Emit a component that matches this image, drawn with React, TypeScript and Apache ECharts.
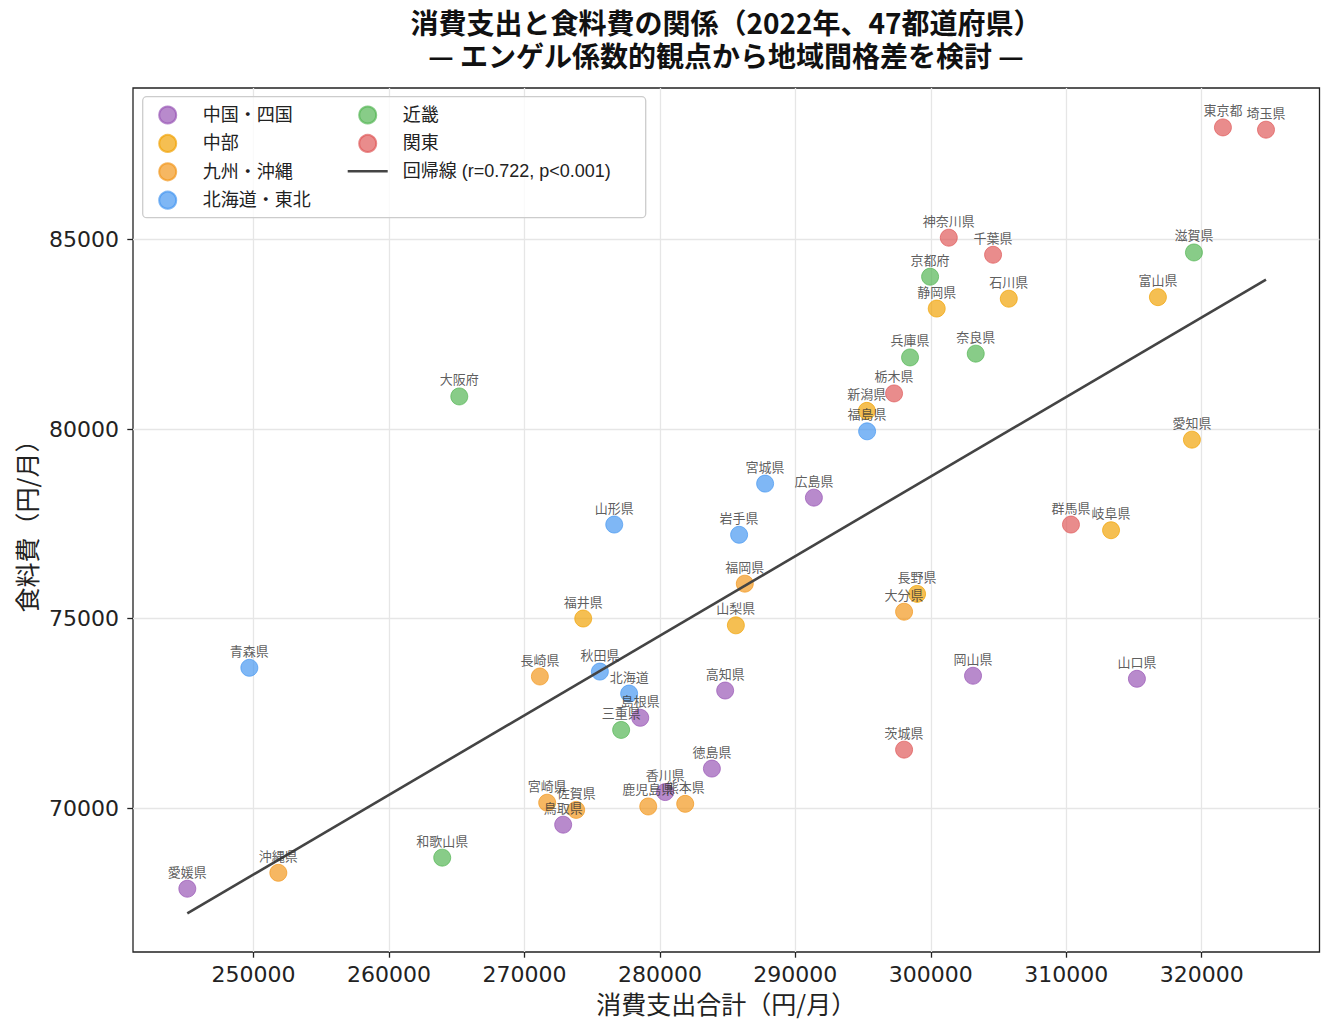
import React, { useEffect, useRef } from "react";
import * as echarts from "echarts";

// ---- Data ----
const regionNames = ["中国・四国", "中部", "九州・沖縄", "北海道・東北", "近畿", "関東"];
const regionColors = ["#9652B4", "#F0A100", "#F19517", "#4395F0", "#50B44F", "#DE5656"];

const chushikokuNames = ["鳥取県", "島根県", "岡山県", "広島県", "山口県", "徳島県", "香川県", "愛媛県", "高知県"];
const chushikokuSpend = [272860, 278550, 303120, 291370, 315220, 283840, 280390, 245110, 284820];
const chushikokuFood = [69560, 72380, 73490, 78190, 73410, 71040, 70420, 67870, 73100];

const chubuNames = ["石川県", "富山県", "静岡県", "新潟県", "愛知県", "岐阜県", "長野県", "福井県", "山梨県"];
const chubuSpend = [305760, 316770, 300440, 295280, 319280, 313310, 298990, 274340, 285610];
const chubuFood = [83440, 83480, 83180, 80480, 79720, 77330, 75650, 75000, 74820];

const kyushuNames = ["福岡県", "佐賀県", "長崎県", "熊本県", "大分県", "宮崎県", "鹿児島県", "沖縄県"];
const kyushuSpend = [286270, 273820, 271140, 281870, 298030, 271680, 279140, 251830];
const kyushuFood = [75920, 69950, 73470, 70110, 75180, 70140, 70040, 68290];

const tohokuNames = ["北海道", "青森県", "岩手県", "宮城県", "秋田県", "山形県", "福島県"];
const tohokuSpend = [277730, 249690, 285850, 287770, 275570, 276630, 295300];
const tohokuFood = [73020, 73700, 77210, 78560, 73600, 77480, 79940];

const kinkiNames = ["滋賀県", "京都府", "大阪府", "兵庫県", "奈良県", "和歌山県", "三重県"];
const kinkiSpend = [319430, 299950, 265190, 298470, 303320, 263930, 277140];
const kinkiFood = [84660, 84020, 80860, 81890, 81990, 68690, 72060];

const kantoNames = ["東京都", "埼玉県", "神奈川県", "千葉県", "栃木県", "群馬県", "茨城県"];
const kantoSpend = [321570, 324750, 301330, 304600, 297290, 310350, 298030];
const kantoFood = [87960, 87900, 85050, 84600, 80940, 77480, 71540];

const xTicks = [250000, 260000, 270000, 280000, 290000, 300000, 310000, 320000];
const yTicks = [70000, 75000, 80000, 85000];
const regressionLabel = "回帰線 (r=0.722, p<0.001)";

const CJK = '"Noto Sans CJK JP", "Noto Sans", sans-serif';
const LAT = '"Liberation Sans", "Noto Sans CJK JP", sans-serif';
const NUM = '"DejaVu Sans", sans-serif';

function rgba(hex: string, a: number) {
  const n = parseInt(hex.slice(1), 16);
  return `rgba(${(n >> 16) & 255},${(n >> 8) & 255},${n & 255},${a})`;
}

export default function App() {
  const ref = useRef<HTMLDivElement>(null);
  useEffect(() => {
    document.body.style.margin = "0";
    const chart = echarts.init(ref.current!, null, { renderer: "svg" });

    const groups = [
      { names: chushikokuNames, xs: chushikokuSpend, ys: chushikokuFood },
      { names: chubuNames, xs: chubuSpend, ys: chubuFood },
      { names: kyushuNames, xs: kyushuSpend, ys: kyushuFood },
      { names: tohokuNames, xs: tohokuSpend, ys: tohokuFood },
      { names: kinkiNames, xs: kinkiSpend, ys: kinkiFood },
      { names: kantoNames, xs: kantoSpend, ys: kantoFood },
    ];

    const allX: number[] = [];
    const allY: number[] = [];
    groups.forEach((g) => {
      allX.push(...g.xs);
      allY.push(...g.ys);
    });
    const n = allX.length;
    const mx = allX.reduce((a, b) => a + b, 0) / n;
    const my = allY.reduce((a, b) => a + b, 0) / n;
    let sxy = 0;
    let sxx = 0;
    for (let i = 0; i < n; i++) {
      sxy += (allX[i] - mx) * (allY[i] - my);
      sxx += (allX[i] - mx) ** 2;
    }
    const slope = sxy / sxx;
    const icpt = my - slope * mx;
    const x0 = Math.min(...allX);
    const x1 = Math.max(...allX);

    const scatterSeries = groups.map((g, gi) => ({
      name: regionNames[gi],
      type: "scatter",
      z: 2,
      symbol: "circle",
      symbolSize: 17,
      silent: true,
      itemStyle: {
        color: rgba(regionColors[gi], 0.85),
        borderColor: rgba(regionColors[gi], 0.85),
        borderWidth: 1,
      },
      data: g.xs.map((x, i) => [x, g.ys[i]]),
    }));

    const labelData: any[] = [];
    groups.forEach((g) =>
      g.names.forEach((nm, i) => labelData.push({ name: nm, value: [g.xs[i], g.ys[i]] }))
    );

    const legendText = { fontSize: 18, lineHeight: 17, color: "#222", fontFamily: LAT, padding: [0, 0, 0, 10] };

    const option: any = {
      animation: false,
      backgroundColor: "#ffffff",
      title: {
        text: "消費支出と食料費の関係（2022年、47都道府県）\n— エンゲル係数的観点から地域間格差を検討 —",
        left: 726,
        top: 5,
        textAlign: "center",
        padding: 0,
        textStyle: { fontSize: 28, fontWeight: "bold", lineHeight: 33, color: "#111", fontFamily: CJK },
      },
      grid: {
        left: 133,
        right: 14.5,
        top: 88,
        bottom: 83,
        show: true,
        borderColor: "#222",
        borderWidth: 1.3,
        backgroundColor: "transparent",
      },
      legend: [
        {
          data: regionNames.slice(0, 4).map((nm) => ({ name: nm, icon: "circle" })),
          orient: "vertical",
          left: 158.2,
          top: 105.5,
          itemWidth: 40,
          itemHeight: 17,
          itemGap: 9.4,
          padding: 0,
          selectedMode: false,
          textStyle: legendText,
        },
        {
          data: [
            { name: "近畿", icon: "circle" },
            { name: "関東", icon: "circle" },
            { name: regressionLabel, icon: "path://M0,0H40V2.6H0Z" },
          ],
          orient: "vertical",
          left: 347.7,
          top: 105.5,
          itemWidth: 40,
          itemHeight: 17,
          itemGap: 9.4,
          padding: 0,
          selectedMode: false,
          textStyle: legendText,
        },
      ],
      graphic: [
        {
          type: "rect",
          z: 3,
          silent: true,
          shape: { x: 142.7, y: 96.7, width: 503, height: 121, r: 4 },
          style: { fill: "rgba(255,255,255,0.8)", stroke: "#cccccc", lineWidth: 1.3 },
        },
      ],
      xAxis: {
        type: "value",
        min: 241100,
        max: 328700,
        splitNumber: 9,
        name: "消費支出合計（円/月）",
        nameLocation: "middle",
        nameGap: 38,
        nameTextStyle: { fontSize: 25, color: "#222", fontFamily: CJK },
        axisLine: { show: false },
        axisTick: { show: true, length: 5.7, customValues: xTicks, lineStyle: { color: "#222", width: 1.3 } },
        axisLabel: {
          customValues: xTicks,
          formatter: (v: number) => String(v),
          fontSize: 22,
          color: "#222",
          margin: 11,
          fontFamily: NUM,
        },
        splitLine: { show: true, lineStyle: { color: "#e6e6e6", width: 1.3 } },
      },
      yAxis: {
        type: "value",
        min: 66200,
        max: 89000,
        splitNumber: 5,
        name: "食料費（円/月）",
        nameLocation: "middle",
        nameGap: 87,
        nameRotate: 90,
        nameTextStyle: { fontSize: 25, color: "#222", fontFamily: CJK },
        axisLine: { show: false },
        axisTick: { show: true, length: 5.7, customValues: yTicks, lineStyle: { color: "#222", width: 1.3 } },
        axisLabel: {
          customValues: yTicks,
          formatter: (v: number) => String(v),
          fontSize: 22,
          color: "#222",
          margin: 14,
          fontFamily: NUM,
        },
        splitLine: { show: true, lineStyle: { color: "#e6e6e6", width: 1.3 } },
      },
      series: [
        ...scatterSeries,
        {
          name: regressionLabel,
          type: "line",
          z: 3,
          symbol: "none",
          silent: true,
          lineStyle: { color: "#444444", width: 2.6 },
          itemStyle: { color: "#444444" },
          data: [
            [x0, icpt + slope * x0],
            [x1, icpt + slope * x1],
          ],
        },
        {
          name: "labels",
          type: "scatter",
          z: 4,
          symbolSize: 17,
          silent: true,
          itemStyle: { color: "rgba(0,0,0,0)" },
          label: {
            show: true,
            position: "top",
            distance: 2.5,
            formatter: "{b}",
            fontSize: 13,
            color: "#333",
            fontFamily: CJK,
          },
          data: labelData,
        },
      ],
    };

    chart.setOption(option);
    return () => chart.dispose();
  }, []);
  return <div ref={ref} style={{ width: 1334, height: 1035, background: "#fff" }} />;
}
